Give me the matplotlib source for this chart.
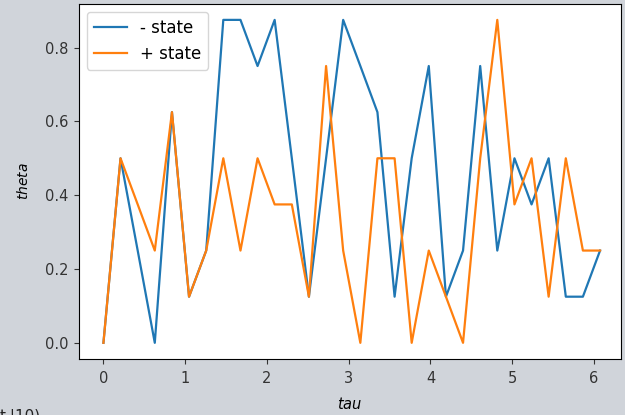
import numpy as np
import matplotlib
matplotlib.use("Agg")
import matplotlib.pyplot as plt

tau = [0.0, 0.209, 0.419, 0.628, 0.838, 1.047, 1.257, 1.466, 1.676, 1.885,
       2.094, 2.304, 2.513, 2.723, 2.932, 3.142, 3.351, 3.561, 3.770, 3.979,
       4.189, 4.398, 4.608, 4.817, 5.027, 5.236, 5.445, 5.655, 5.864, 6.074]
minus_state = [0.0, 0.5, 0.25, 0.0, 0.625, 0.125, 0.25, 0.875, 0.875, 0.75,
               0.875, 0.5, 0.125, 0.5, 0.875, 0.75, 0.625, 0.125, 0.5, 0.75,
               0.125, 0.25, 0.75, 0.25, 0.5, 0.375, 0.5, 0.125, 0.125, 0.25]
plus_state = [0.0, 0.5, 0.375, 0.25, 0.625, 0.125, 0.25, 0.5, 0.25, 0.5,
              0.375, 0.375, 0.125, 0.75, 0.25, 0.0, 0.5, 0.5, 0.0, 0.25,
              0.125, 0.0, 0.5, 0.875, 0.375, 0.5, 0.125, 0.5, 0.25, 0.25]

bg = '#d0d4da'
fig = plt.figure(figsize=(6.25, 4.15), dpi=100, facecolor=bg)
ax = fig.add_axes([0.1256, 0.135, 0.868, 0.856])
ax.plot(tau, minus_state, color='tab:blue', label='- state', lw=1.6)
ax.plot(tau, plus_state, color='tab:orange', label='+ state', lw=1.6)
ax.set_xlim(-0.305, 6.33)
ax.tick_params(axis='x', pad=5.5)
ax.tick_params(axis='both', labelsize=10.5, colors='#333333')
ax.set_xlabel('$tau$', fontsize=10.5, labelpad=7)
ax.set_ylabel('$theta$', fontsize=10, labelpad=10)
ax.legend(loc='upper left', fontsize=12)
fig.text(0.0, 6 / 415, 't.|10)', fontsize=11, va='top', ha='left', color='#222222')
fig.savefig('out.png', dpi=100, facecolor=bg)
